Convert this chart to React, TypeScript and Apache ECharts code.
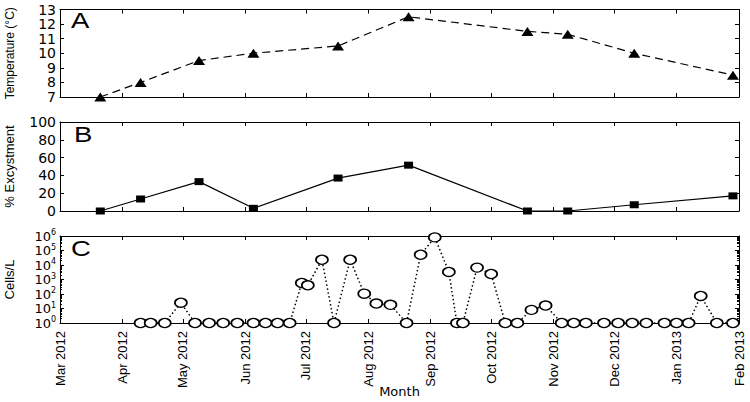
import React, { useEffect, useRef } from "react";
import * as echarts from "echarts";

const monthTicks = [
  "2012-03-01", "2012-04-01", "2012-05-01", "2012-06-01", "2012-07-01", "2012-08-01",
  "2012-09-01", "2012-10-01", "2012-11-01", "2012-12-01", "2013-01-01", "2013-02-01",
];
const monthNames = ["Jan", "Feb", "Mar", "Apr", "May", "Jun", "Jul", "Aug", "Sep", "Oct", "Nov", "Dec"];

const sampleDates = [
  "2012-03-21", "2012-04-10", "2012-05-09", "2012-06-05", "2012-07-17",
  "2012-08-21", "2012-10-19", "2012-11-08", "2012-12-11", "2013-01-29",
];
const tempValues = [7, 8, 9.5, 10, 10.5, 12.5, 11.5, 11.3, 10, 8.5];
const excystValues = [0, 13.5, 33, 3, 37, 51.5, 0, 0, 7, 17];

const cellDates = [
  "2012-04-10", "2012-04-15", "2012-04-22", "2012-04-30", "2012-05-07", "2012-05-14",
  "2012-05-21", "2012-05-28", "2012-06-05", "2012-06-11", "2012-06-17", "2012-06-23",
  "2012-06-29", "2012-07-02", "2012-07-09", "2012-07-15", "2012-07-23", "2012-07-30",
  "2012-08-05", "2012-08-12", "2012-08-20", "2012-08-27", "2012-09-03", "2012-09-10",
  "2012-09-14", "2012-09-17", "2012-09-24", "2012-10-01", "2012-10-08", "2012-10-14",
  "2012-10-21", "2012-10-28", "2012-11-05", "2012-11-11", "2012-11-17", "2012-11-26",
  "2012-12-03", "2012-12-10", "2012-12-17", "2012-12-26", "2013-01-01", "2013-01-07",
  "2013-01-13", "2013-01-21", "2013-01-29",
];
const cellValues = [
  1, 1, 1, 25, 1, 1,
  1, 1, 1, 1, 1, 1,
  575, 400, 23000, 1, 23000, 105,
  22, 18, 1, 51000, 800000, 3300,
  1, 1, 6600, 2400, 1, 1,
  8, 16, 1, 1, 1, 1,
  1, 1, 1, 1, 1, 1,
  73, 1, 1,
];

const ts = (s: string) => {
  const [y, m, d] = s.split("-").map(Number);
  return new Date(y, m - 1, d).getTime();
};

const FONT = "'Liberation Sans', Arial, sans-serif";
const WIDE = "'DejaVu Sans', 'Liberation Sans', sans-serif";

export default function App() {
  const ref = useRef<HTMLDivElement>(null);
  useEffect(() => {
    if (!ref.current) return;
    const chart = echarts.init(ref.current, undefined, { renderer: "svg" });
    const monthTs = monthTicks.map(ts);
    const xMin = monthTs[0];
    const xMax = monthTs[monthTs.length - 1];
    const grids = [
      { left: 60, right: 11, top: 9.5, height: 87.5, outerBoundsMode: "none", containLabel: false },
      { left: 60, right: 11, top: 122, height: 89, outerBoundsMode: "none", containLabel: false },
      { left: 60, right: 11, top: 236, height: 87, outerBoundsMode: "none", containLabel: false },
    ];
    const black = "#000";
    const xAxes: any[] = [];
    const yAxes: any[] = [];
    grids.forEach((_, i) => {
      xAxes.push({
        gridIndex: i,
        type: "value",
        position: "bottom",
        min: xMin,
        max: xMax,
        axisLine: { show: true, onZero: false, lineStyle: { color: black, width: 1 } },
        axisTick: { show: true, inside: true, length: 4, customValues: monthTs, lineStyle: { color: black } },
        axisLabel: {
          show: i === 2,
          customValues: monthTs,
          rotate: 90,
          margin: 8,
          color: black,
          fontFamily: FONT,
          fontSize: 13,
          hideOverlap: false,
          showMinLabel: true,
          showMaxLabel: true,
          formatter: (v: number) => {
            const d = new Date(v);
            return monthNames[d.getMonth()] + " " + d.getFullYear();
          },
        },
        splitLine: { show: false },
        name: i === 2 ? "Month" : "",
        nameLocation: "middle",
        nameGap: 62,
        nameMoveOverlap: false,
        nameTextStyle: { color: black, fontFamily: WIDE, fontSize: 13 },
      });
      xAxes.push({
        gridIndex: i,
        type: "value",
        position: "top",
        min: xMin,
        max: xMax,
        axisLine: { show: true, onZero: false, lineStyle: { color: black, width: 1 } },
        axisTick: { show: true, inside: true, length: 4, customValues: monthTs, lineStyle: { color: black } },
        axisLabel: { show: false },
        splitLine: { show: false },
      });
    });

    const yCommon = (i: number, pos: string) => ({
      gridIndex: i,
      position: pos,
      axisLine: { show: true, onZero: false, lineStyle: { color: black, width: 1 } },
      axisTick: { show: true, inside: true, length: 4, lineStyle: { color: black } },
      splitLine: { show: false },
      nameMoveOverlap: false,
    });
    const tickLabel = {
      color: black, fontFamily: WIDE, fontSize: 14, margin: 4,
      showMinLabel: true, showMaxLabel: true, hideOverlap: false,
    };
    // Panel A
    yAxes.push({
      ...yCommon(0, "left"), type: "value", min: 7, max: 13, interval: 1,
      axisLabel: { ...tickLabel },
      name: "Temperature (°C)", nameLocation: "middle", nameGap: 44, nameRotate: 90,
      nameTextStyle: { color: black, fontFamily: FONT, fontSize: 12 },
    });
    yAxes.push({ ...yCommon(0, "right"), type: "value", min: 7, max: 13, interval: 1, axisLabel: { show: false } });
    // Panel B
    yAxes.push({
      ...yCommon(1, "left"), type: "value", min: 0, max: 100, interval: 20,
      axisLabel: { ...tickLabel },
      name: "% Excystment", nameLocation: "middle", nameGap: 44, nameRotate: 90,
      nameTextStyle: { color: black, fontFamily: FONT, fontSize: 13 },
    });
    yAxes.push({ ...yCommon(1, "right"), type: "value", min: 0, max: 100, interval: 20, axisLabel: { show: false } });
    // Panel C
    yAxes.push({
      ...yCommon(2, "left"), type: "log", logBase: 10, min: 1, max: 1000000,
      axisLabel: {
        ...tickLabel,
        fontSize: 13,
        formatter: (v: number) => "10{s|" + Math.round(Math.log10(v)) + "}",
        rich: { s: { fontSize: 8, fontFamily: WIDE, color: black, verticalAlign: "bottom", padding: [0, 0, 7, 0] } },
      },
      minorTick: { show: true, splitNumber: 9, length: 2, lineStyle: { color: black } },
      name: "Cells/L", nameLocation: "middle", nameGap: 44, nameRotate: 90,
      nameTextStyle: { color: black, fontFamily: FONT, fontSize: 13 },
    });
    yAxes.push({
      ...yCommon(2, "right"), type: "log", logBase: 10, min: 1, max: 1000000,
      axisLabel: { show: false },
      minorTick: { show: true, splitNumber: 9, length: 2, lineStyle: { color: black } },
    });

    const letter = (t: string, x: number, y: number) => ({
      type: "text", x, y, scaleX: 1.25,
      style: { text: t, fontSize: 22, fontFamily: FONT, fill: black },
    });

    const option: any = {
      animation: false,
      backgroundColor: "#fff",
      grid: grids,
      xAxis: xAxes,
      yAxis: yAxes,
      graphic: [letter("A", 71, 9), letter("B", 74, 123), letter("C", 71, 237)],
      series: [
        {
          type: "line", xAxisIndex: 0, yAxisIndex: 0, clip: false,
          data: sampleDates.map((d, k) => [ts(d), tempValues[k]]),
          lineStyle: { color: black, width: 1.2, type: [8, 5] },
          symbol: "triangle", symbolSize: [12, 9],
          itemStyle: { color: black },
        },
        {
          type: "line", xAxisIndex: 2, yAxisIndex: 2, clip: false,
          data: sampleDates.map((d, k) => [ts(d), excystValues[k]]),
          lineStyle: { color: black, width: 1.2 },
          symbol: "rect", symbolSize: [9, 7],
          itemStyle: { color: black },
        },
        {
          type: "line", xAxisIndex: 4, yAxisIndex: 4, clip: false,
          data: cellDates.map((d, k) => [ts(d), cellValues[k]]),
          lineStyle: { color: black, width: 1.5, type: [1.5, 2.5] },
          symbol: "circle", symbolSize: [12, 9], showAllSymbol: true,
          itemStyle: { color: "#fff", borderColor: black, borderWidth: 1.5 },
        },
      ],
    };
    chart.setOption(option);
    return () => chart.dispose();
  }, []);
  return <div ref={ref} style={{ width: 750, height: 402, position: "absolute", left: 0, top: 0 }} />;
}
